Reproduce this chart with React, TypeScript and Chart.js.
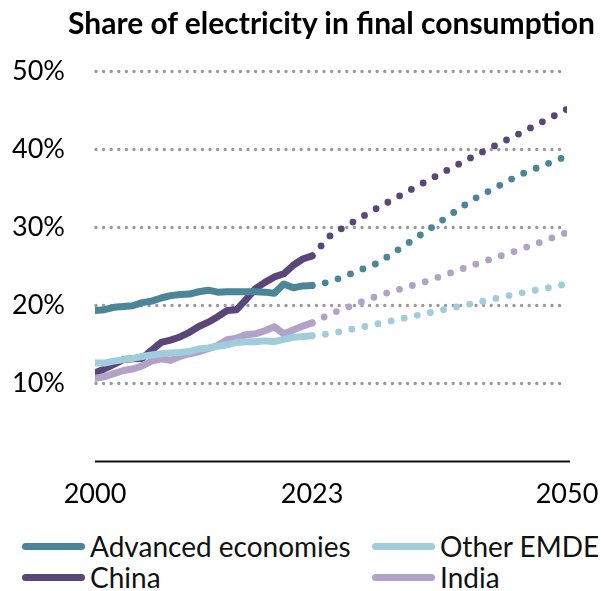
import React, { useEffect, useRef } from "react";
import { Chart, registerables } from "chart.js";

Chart.register(...registerables);

const FONT = "Lato, 'Noto Sans', sans-serif";

const historyYears = [
  2000, 2001, 2002, 2003, 2004, 2005, 2006, 2007, 2008, 2009, 2010, 2011,
  2012, 2013, 2014, 2015, 2016, 2017, 2018, 2019, 2020, 2021, 2022, 2023,
];
const outlookYears = [2025, 2030, 2035, 2040, 2045, 2050];
const lastHistoryYear = 2023;

const advancedHistory = [
  19.3, 19.4, 19.7, 19.8, 19.9, 20.3, 20.5, 20.9, 21.2, 21.35, 21.4, 21.7,
  21.9, 21.65, 21.7, 21.7, 21.7, 21.7, 21.65, 21.5, 22.7, 22.2, 22.45, 22.5,
];
const advancedOutlook = [23.0, 25.4, 29.4, 33.5, 36.7, 39.1];

const otherHistory = [
  12.55, 12.55, 12.8, 13.0, 13.15, 13.4, 13.6, 13.75, 13.85, 13.9, 14.05,
  14.35, 14.5, 14.7, 14.9, 15.2, 15.3, 15.3, 15.4, 15.3, 15.6, 15.85, 15.95,
  16.05,
];
const otherOutlook = [16.35, 17.6, 18.9, 20.2, 21.5, 22.7];

const chinaHistory = [
  11.3, 11.8, 12.4, 13.0, 13.1, 13.15, 14.2, 15.2, 15.5, 15.9, 16.5, 17.25,
  17.8, 18.5, 19.3, 19.4, 20.7, 22.1, 22.9, 23.6, 24.0, 25.1, 25.9, 26.3,
];
const chinaOutlook = [29.0, 32.5, 35.8, 39.0, 42.0, 45.1];

const indiaHistory = [
  10.6, 10.8, 11.2, 11.6, 11.8, 12.2, 12.8, 13.1, 12.9, 13.4, 13.75, 14.0,
  14.4, 14.8, 15.55, 15.75, 16.2, 16.3, 16.7, 17.2, 16.3, 16.8, 17.3, 17.7,
];
const indiaOutlook = [18.9, 21.2, 23.0, 25.1, 27.1, 29.3];

const xTickYears = [2000, 2023, 2050];
const yTickValues = [0, 10, 20, 30, 40, 50];

const chartTitle = "Share of electricity in final consumption";

const series = [
  { label: "Advanced economies", color: "#4a8598", history: advancedHistory, outlook: advancedOutlook },
  { label: "Other EMDE", color: "#9fcddc", history: otherHistory, outlook: otherOutlook },
  { label: "China", color: "#5a4679", history: chinaHistory, outlook: chinaOutlook },
  { label: "India", color: "#b2a2c8", history: indiaHistory, outlook: indiaOutlook },
];

// draw order: lighter lines underneath
const drawOrder = ["Other EMDE", "India", "Advanced economies", "China"];

const toPoints = (hist: number[], outlook: number[]) => [
  ...hist.map((y, i) => ({ x: historyYears[i], y })),
  ...outlook.map((y, i) => ({ x: outlookYears[i], y })),
];

// dotted gridlines with round dots plus a solid baseline at zero
const gridPlugin = {
  id: "dottedGrid",
  beforeDatasetsDraw(chart: any) {
    const { ctx, chartArea, scales } = chart;
    const y = scales.y;
    ctx.save();
    yTickValues.forEach((v) => {
      const py = Math.round(y.getPixelForValue(v)) + 0.5;
      ctx.beginPath();
      if (v === 0) {
        ctx.setLineDash([]);
        ctx.lineWidth = 2;
        ctx.strokeStyle = "#111";
        ctx.lineCap = "butt";
        ctx.moveTo(chartArea.left, py);
        ctx.lineTo(chartArea.right + 3, py);
      } else {
        ctx.setLineDash([0, 7.6]);
        ctx.lineWidth = 3.4;
        ctx.strokeStyle = "#9a9a9a";
        ctx.lineCap = "round";
        ctx.moveTo(chartArea.left + 1, py);
        ctx.lineTo(chartArea.right - 3, py);
      }
      ctx.stroke();
    });
    ctx.restore();
  },
};

function LegendItem({ label, color, left, top }: { label: string; color: string; left: number; top: number }) {
  return (
    <div style={{ position: "absolute", left, top, height: 30, display: "flex", alignItems: "center" }}>
      <span
        style={{
          display: "inline-block",
          width: 63,
          height: 7,
          borderRadius: 4,
          background: color,
          marginRight: 5,
        }}
      />
      <span style={{ fontFamily: FONT, fontSize: 28, color: "#111", whiteSpace: "nowrap", lineHeight: "30px" }}>
        {label}
      </span>
    </div>
  );
}

export default function App() {
  const canvasRef = useRef<HTMLCanvasElement | null>(null);

  useEffect(() => {
    if (!canvasRef.current) return;
    const ordered = drawOrder.map((n) => series.find((s) => s.label === n)!);
    const chart = new Chart(canvasRef.current, {
      type: "line",
      data: {
        datasets: ordered.map((s) => ({
          label: s.label,
          data: toPoints(s.history, s.outlook),
          borderColor: s.color,
          backgroundColor: s.color,
          borderWidth: 7,
          borderCapStyle: "round" as const,
          borderJoinStyle: "round" as const,
          pointRadius: 0,
          pointHoverRadius: 0,
          tension: 0,
          segment: {
            borderDash: (ctx: any) => (ctx.p0.parsed.x >= lastHistoryYear ? [0, 13.4] : undefined),
            borderWidth: (ctx: any) => (ctx.p0.parsed.x >= lastHistoryYear ? 6.8 : 7),
          },
        })),
      },
      options: {
        responsive: false,
        animation: false,
        layout: { padding: { left: 0, right: 34, top: 71, bottom: 0 } },
        plugins: {
          legend: { display: false },
          tooltip: { enabled: false },
          title: { display: false },
        },
        scales: {
          x: {
            type: "linear",
            min: 2000,
            max: 2050,
            afterBuildTicks: (scale: any) => {
              scale.ticks = xTickYears.map((value) => ({ value }));
            },
            afterFit: (scale: any) => {
              scale.height = 59;
              scale.paddingLeft = 0;
              scale.paddingRight = 0;
            },
            ticks: {
              callback: (v: any) => String(v),
              color: "#000",
              font: { family: FONT, size: 27 },
              padding: 17,
              maxRotation: 0,
              autoSkip: false,
            },
            grid: { display: false, drawTicks: false },
            border: { display: false },
          },
          y: {
            min: 0,
            max: 50,
            afterBuildTicks: (scale: any) => {
              scale.ticks = yTickValues.map((value) => ({ value }));
            },
            afterFit: (scale: any) => {
              scale.width = 95;
              scale.paddingTop = 0;
              scale.paddingBottom = 0;
            },
            ticks: {
              callback: (v: any) => (v === 0 ? "" : `${v}%`),
              color: "#000",
              font: { family: FONT, size: 27 },
              padding: 30,
            },
            grid: { display: false, drawTicks: false },
            border: { display: false },
          },
        },
      },
      plugins: [gridPlugin],
    });
    return () => chart.destroy();
  }, []);

  return (
    <div style={{ position: "absolute", left: 0, top: 0, width: 601, height: 591, background: "#fff" }}>
      <canvas ref={canvasRef} width={601} height={520} style={{ display: "block", width: 601, height: 520 }} />
      <div
        style={{
          position: "absolute",
          left: 68,
          top: 4,
          fontFamily: FONT,
          fontWeight: 700,
          fontSize: 30,
          lineHeight: "36px",
          whiteSpace: "nowrap",
          color: "#000",
        }}
      >
        {chartTitle}
      </div>
      <LegendItem label="Advanced economies" color={series[0].color} left={22} top={531} />
      <LegendItem label="Other EMDE" color={series[1].color} left={372} top={531} />
      <LegendItem label="China" color={series[2].color} left={22} top={562} />
      <LegendItem label="India" color={series[3].color} left={372} top={562} />
    </div>
  );
}
